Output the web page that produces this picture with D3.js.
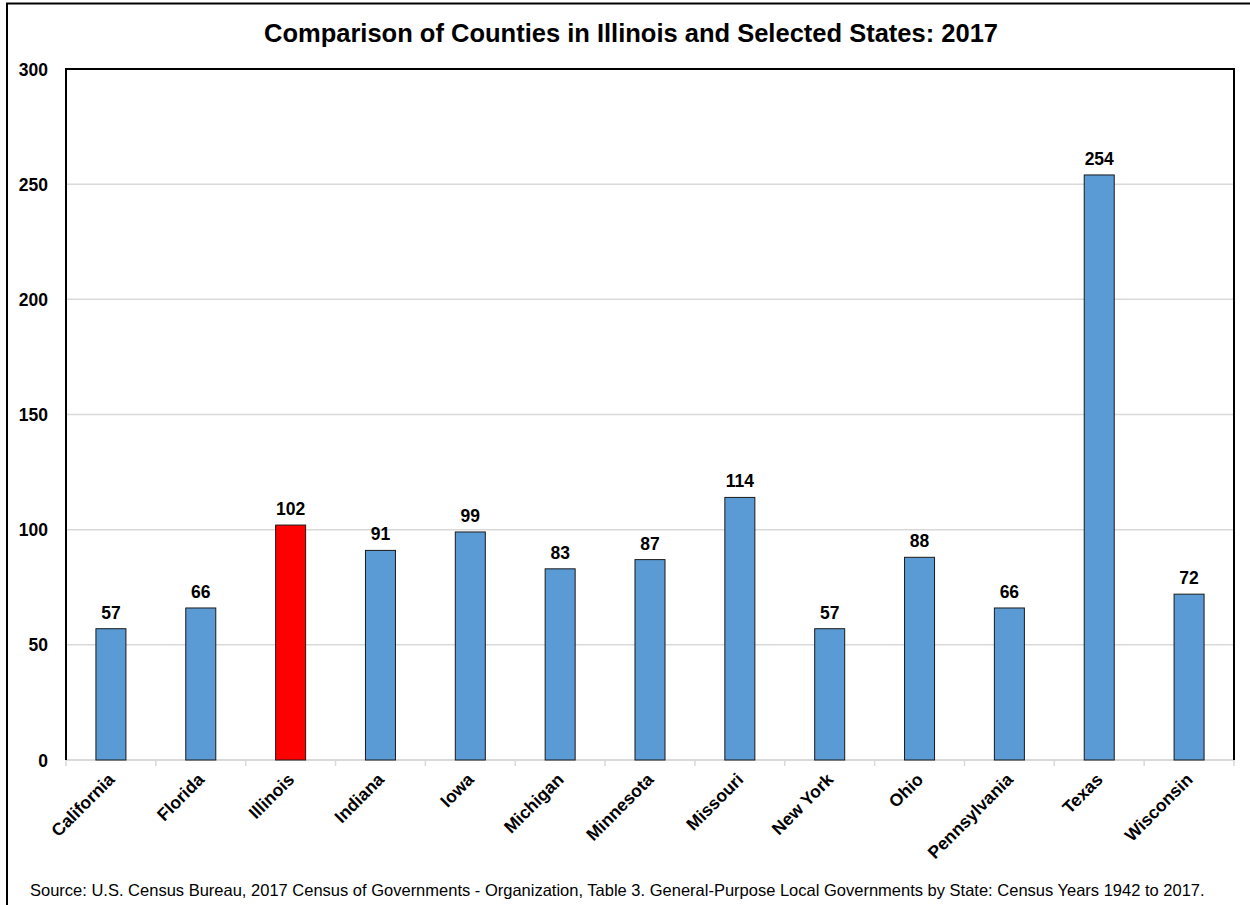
<!DOCTYPE html>
<html><head><meta charset="utf-8">
<script src="https://cdn.jsdelivr.net/npm/d3@7"></script>
<style>body{margin:0;background:#fff;}svg{display:block;font-family:"Liberation Sans",Arial,sans-serif;}</style>
</head><body><svg id="c" width="1250" height="905"></svg>
<script>
const states = ["California","Florida","Illinois","Indiana","Iowa","Michigan","Minnesota","Missouri","New York","Ohio","Pennsylvania","Texas","Wisconsin"];
const counties = [57,66,102,91,99,83,87,114,57,88,66,254,72];
const highlight = ["Illinois"];
const yTicks = [0,50,100,150,200,250,300];
const title = "Comparison of Counties in Illinois and Selected States: 2017";
const source = "Source: U.S. Census Bureau, 2017 Census of Governments - Organization, Table 3. General-Purpose Local Governments by State: Census Years 1942 to 2017.";

const svg = d3.select("#c");
const m = {l:66, t:69, r:1234, b:760};
svg.append("rect").attr("x",7).attr("y",3.5).attr("width",1260).attr("height",920)
  .attr("fill","none").attr("stroke","#000").attr("stroke-width",2);

const x = d3.scaleBand().domain(states).range([m.l,m.r]).paddingInner(0.666).paddingOuter(0.333);
const y = d3.scaleLinear().domain([0,300]).range([m.b,m.t]);

// grid
svg.append("g").selectAll("line").data(yTicks.filter(d=>d>0&&d<300)).join("line")
  .attr("x1",m.l).attr("x2",m.r).attr("y1",d=>y(d)).attr("y2",d=>y(d))
  .attr("stroke","#d9d9d9").attr("stroke-width",1.5);

// x axis (gray) with ticks at band boundaries
const bounds = d3.range(states.length+1).map(i=>m.l+i*(m.r-m.l)/states.length);
svg.append("line").attr("x1",m.l).attr("x2",m.r).attr("y1",m.b).attr("y2",m.b).attr("stroke","#d9d9d9").attr("stroke-width",2);
svg.append("g").selectAll("line").data(bounds).join("line")
  .attr("x1",d=>d).attr("x2",d=>d).attr("y1",m.b).attr("y2",m.b+6).attr("stroke","#d9d9d9").attr("stroke-width",1.5);

// bars
svg.append("g").selectAll("rect").data(states).join("rect")
  .attr("x",d=>x(d)).attr("width",x.bandwidth())
  .attr("y",(d,i)=>y(counties[i])).attr("height",(d,i)=>y(0)-y(counties[i]))
  .attr("fill",d=>highlight.includes(d)?"#ff0000":"#5b9bd5")
  .attr("stroke","#1a1a1a").attr("stroke-width",1);

// value labels
svg.append("g").selectAll("text").data(states).join("text")
  .attr("x",d=>x(d)+x.bandwidth()/2).attr("y",(d,i)=>y(counties[i])-10)
  .attr("text-anchor","middle").attr("font-size",17.5).attr("font-weight","bold").text((d,i)=>counties[i]);

// plot frame (left, top, right)
svg.append("path").attr("d",`M${m.l},${m.b}V${m.t}H${m.r}V${m.b}`).attr("fill","none").attr("stroke","#000").attr("stroke-width",2);

// y axis labels
svg.append("g").selectAll("text").data(yTicks).join("text")
  .attr("x",48).attr("y",d=>y(d)+6.5).attr("text-anchor","end")
  .attr("font-size",17.5).attr("font-weight","bold").text(d=>d);

// x labels
svg.append("g").selectAll("text").data(states).join("text")
  .attr("transform",d=>`translate(${x(d)+x.bandwidth()/2-4},${m.b+12}) rotate(-45)`)
  .attr("text-anchor","end").attr("dy","0.7em")
  .attr("font-size",17.5).attr("font-weight","bold").text(d=>d);

svg.append("text").attr("x",631).attr("y",42).attr("text-anchor","middle")
  .attr("font-size",25.5).attr("font-weight","bold").text(title);
svg.append("text").attr("x",30).attr("y",896).attr("font-size",16.5).text(source);
</script></body></html>
